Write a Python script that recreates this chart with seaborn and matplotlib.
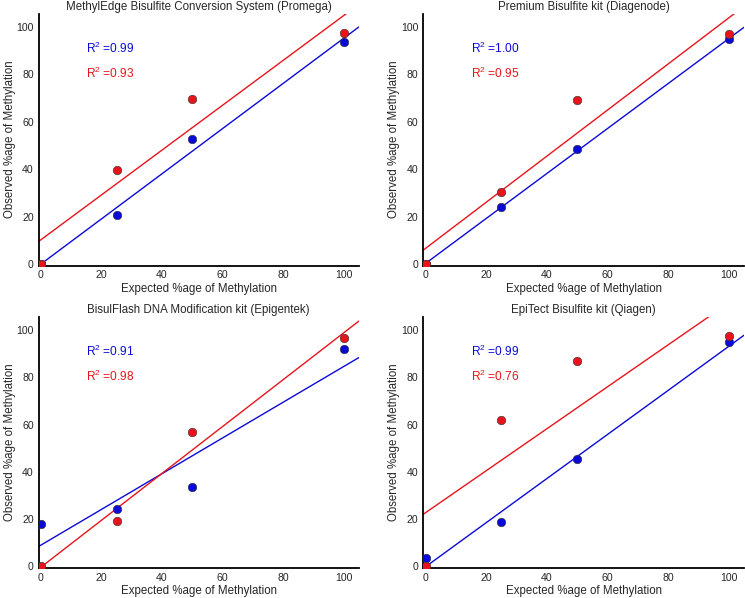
import matplotlib
matplotlib.use("Agg")
import matplotlib.pyplot as plt
import numpy as np
import pandas as pd
import seaborn as sns

# expected methylation levels (x) shared by all kits
expected = [0, 25, 50, 100]

titles = [
    "MethylEdge Bisulfite Conversion System (Promega)",
    "Premium Bisulfite kit (Diagenode)",
    "BisulFlash DNA Modification kit (Epigentek)",
    "EpiTect Bisulfite kit (Qiagen)",
]

# observed values, blue series and red series for each kit
blue_obs = [
    [0, 20.5, 52.6, 93.5],
    [0, 23.9, 48.4, 94.8],
    [18.1, 24.4, 33.7, 92.0],
    [3.6, 18.7, 45.6, 94.8],
]
red_obs = [
    [0, 39.5, 69.6, 97.3],
    [0, 30.5, 69.2, 97.0],
    [0, 19.0, 56.7, 96.5],
    [0, 62.1, 86.8, 97.5],
]

blue_r2 = ["0.99", "1.00", "0.91", "0.99"]
red_r2 = ["0.93", "0.95", "0.98", "0.76"]

BLUE = "#0a0ad8"
RED = "#e8141c"

sns.set_style("white")
plt.rcParams["font.family"] = ["Liberation Sans", "DejaVu Sans"]
plt.rcParams["mathtext.fontset"] = "custom"
plt.rcParams["mathtext.rm"] = "Liberation Sans"
plt.rcParams["mathtext.it"] = "Liberation Sans"
plt.rcParams["mathtext.default"] = "regular"

fig = plt.figure(figsize=(7.45, 5.98), dpi=100)
boxes = [
    [0.0517, 0.556, 0.430, 0.421],
    [0.568, 0.556, 0.431, 0.421],
    [0.0517, 0.0507, 0.430, 0.419],
    [0.568, 0.0507, 0.431, 0.419],
]

for i, box in enumerate(boxes):
    ax = fig.add_axes(box)
    ax.set_xlim(-0.8, 105)
    ax.set_ylim(-0.6, 105.5)
    df = pd.DataFrame({"x": expected, "blue": blue_obs[i], "red": red_obs[i]})
    for col, c in [("blue", BLUE), ("red", RED)]:
        sns.regplot(data=df, x="x", y=col, ax=ax, ci=None, truncate=False,
                    color=c,
                    scatter_kws={"s": 38, "edgecolor": "#333333", "linewidths": 0.4,
                                 "alpha": 1, "zorder": 3},
                    line_kws={"lw": 1.0, "zorder": 2})
    ax.set_xlim(-0.8, 105)
    ax.set_ylim(-0.6, 105.5)
    ax.set_xticks([0, 20, 40, 60, 80, 100])
    ax.set_yticks([0, 20, 40, 60, 80, 100])
    ax.tick_params(labelsize=7.6, pad=3.5, length=0)
    ax.set_xlabel("Expected %age of Methylation", fontsize=8.3, labelpad=2)
    ax.set_ylabel("Observed %age of Methylation", fontsize=8.3, labelpad=0.5)
    ax.set_title(titles[i], fontsize=8.3, pad=3)
    ax.text(15, 91, "R$^2$ =" + blue_r2[i], color=BLUE, fontsize=8.6, va="center")
    ax.text(15, 80.5, "R$^2$ =" + red_r2[i], color=RED, fontsize=8.6, va="center")
    sns.despine(ax=ax)
    for s in ["left", "bottom"]:
        ax.spines[s].set_color("black")
        ax.spines[s].set_linewidth(1.3)

fig.savefig("out.png", dpi=100)
